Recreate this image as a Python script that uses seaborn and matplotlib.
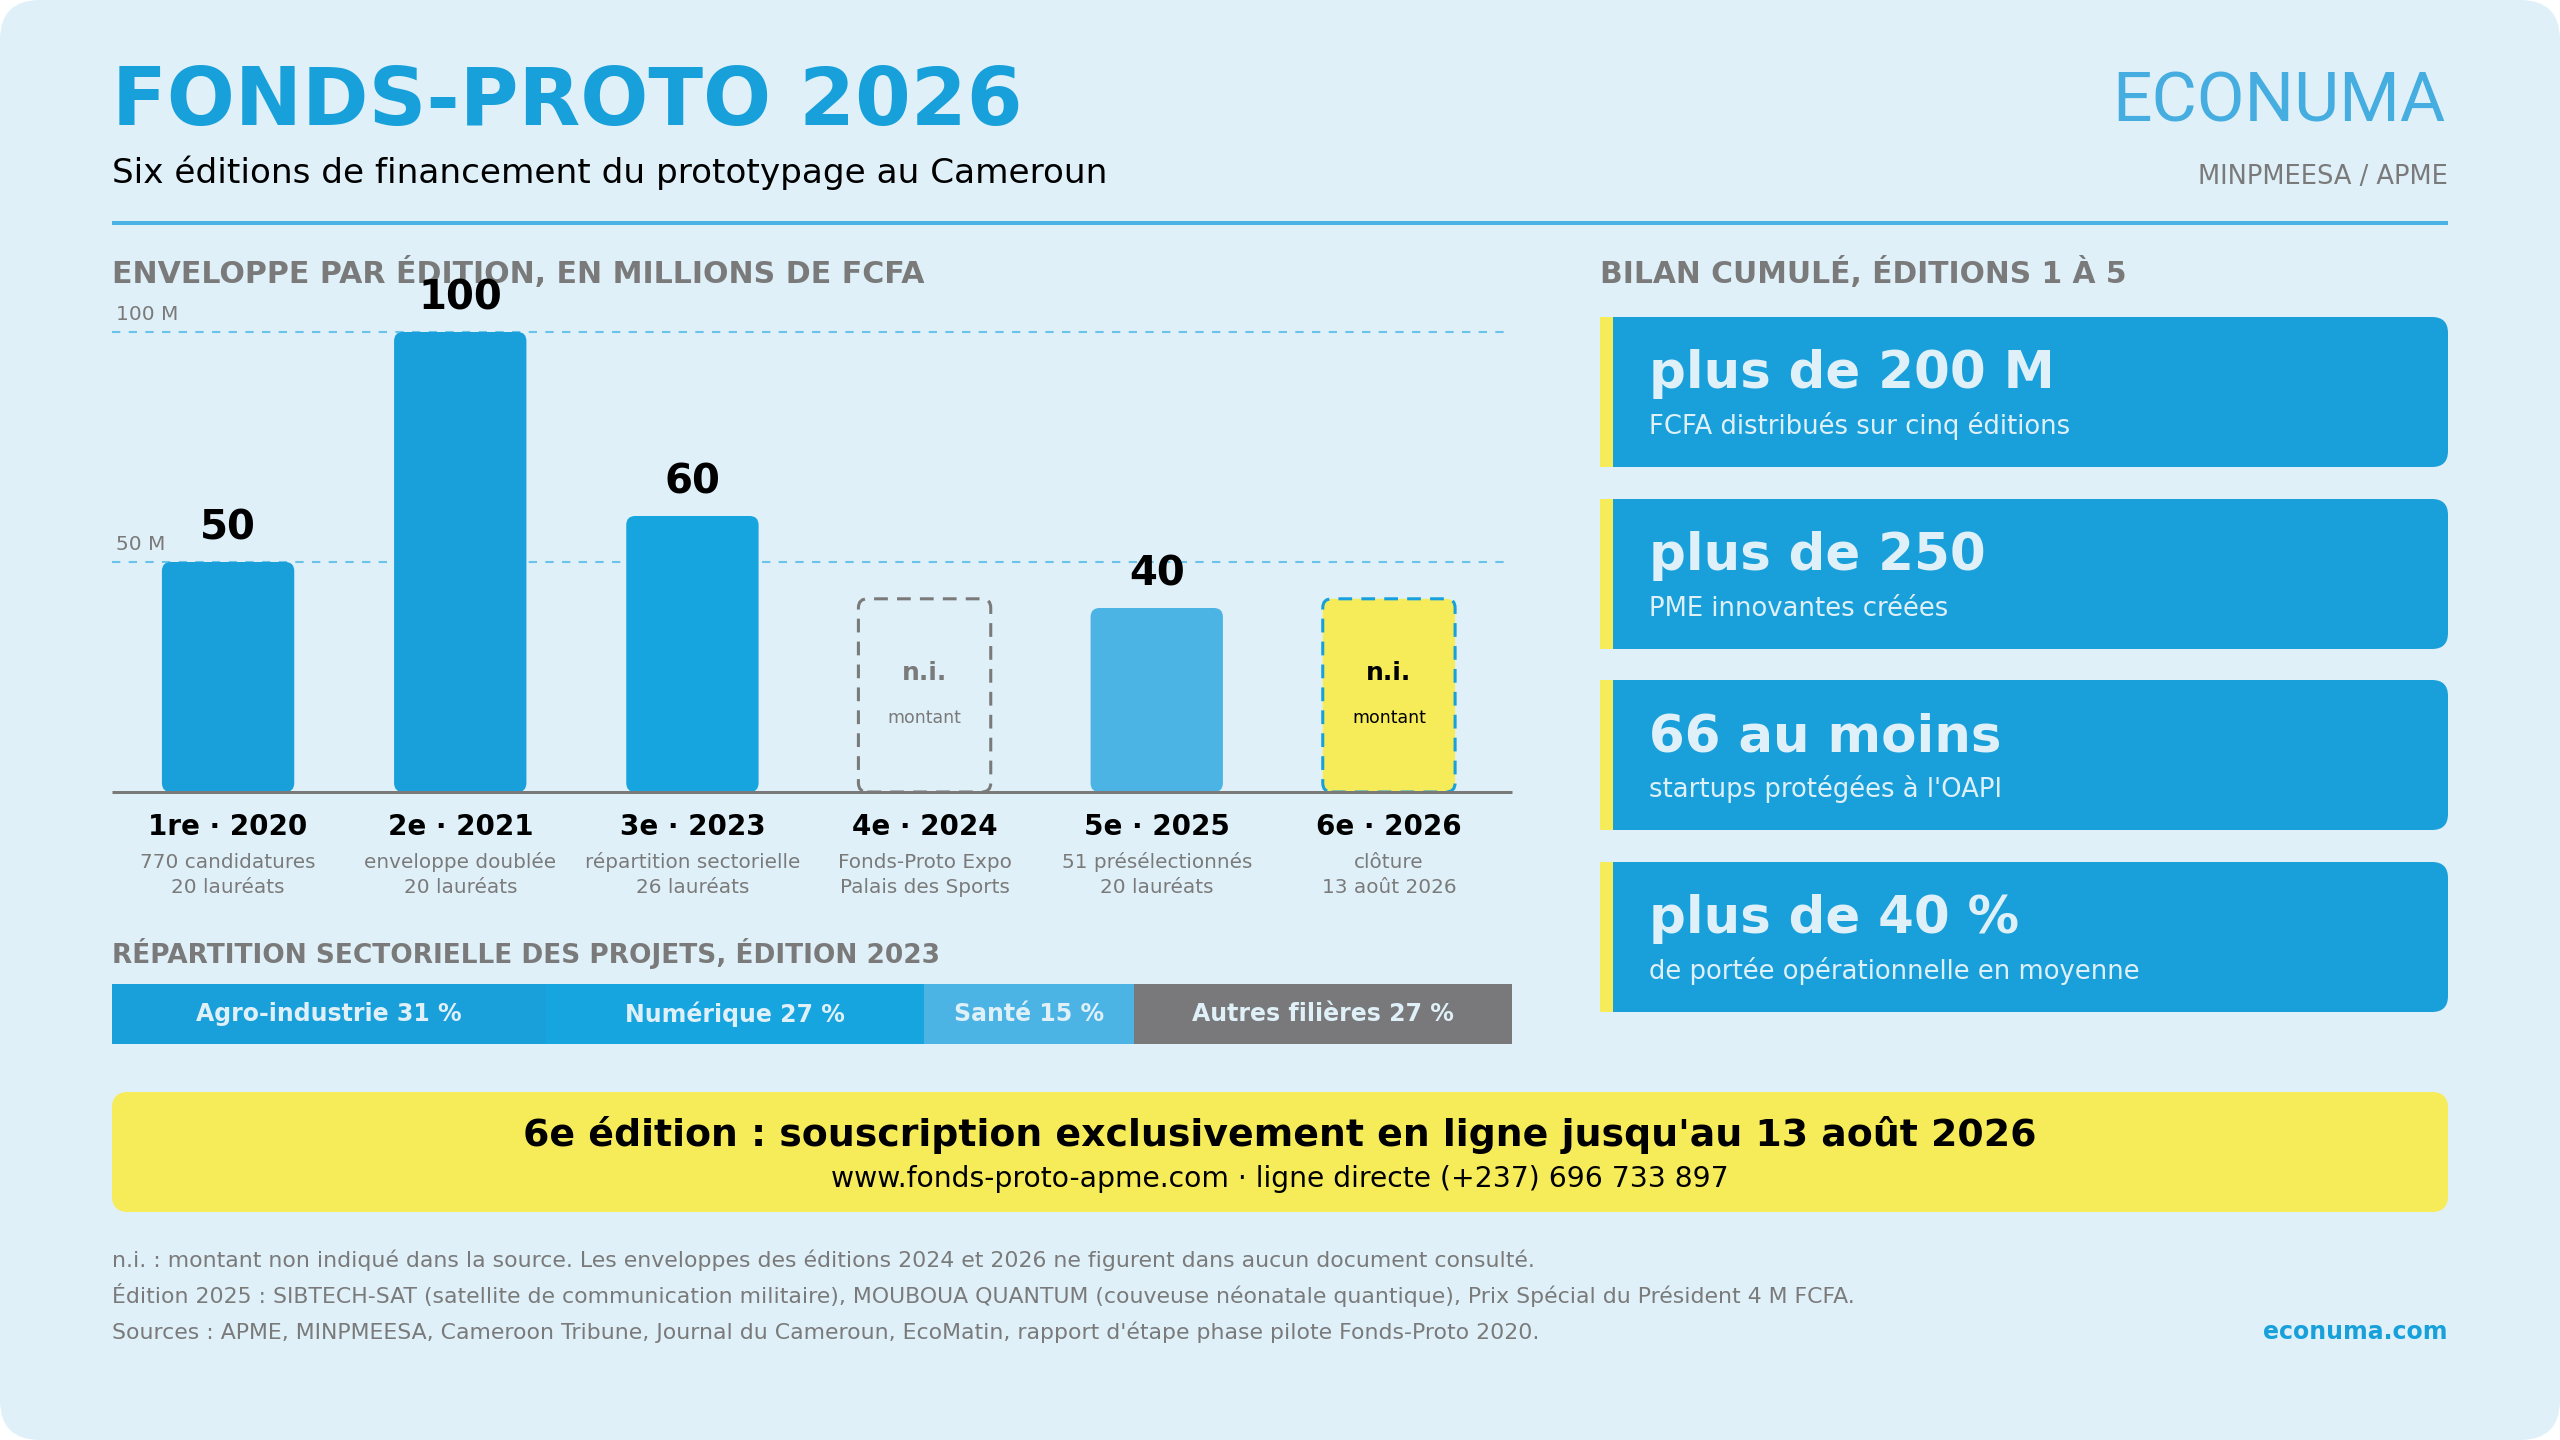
from __future__ import annotations

import matplotlib

matplotlib.use("Agg")
import matplotlib.pyplot as plt
import numpy as np
import pandas as pd
import seaborn as sns
from matplotlib.patches import FancyBboxPatch, Rectangle

W, H = 2560, 1440
BG = "#DFF0F8"
BLUE = "#19A0DB"
BLUE_MID = "#16A5DF"
BLUE_LIGHT = "#4BB4E4"
YELLOW = "#F6EC5A"
GRAY = "#7A7A7A"
GRID = "#6CC3E9"

# enveloppe par édition (millions FCFA), None = non indiqué
EDITIONS = ["1re · 2020", "2e · 2021", "3e · 2023", "4e · 2024", "5e · 2025", "6e · 2026"]
ENVELOPES = [50, 100, 60, None, 40, None]
EDITION_NOTES_1 = ["770 candidatures", "enveloppe doublée", "répartition sectorielle",
                   "Fonds-Proto Expo", "51 présélectionnés", "clôture"]
EDITION_NOTES_2 = ["20 lauréats", "20 lauréats", "26 lauréats",
                   "Palais des Sports", "20 lauréats", "13 août 2026"]
BAR_COLORS = [BLUE, BLUE, BLUE_MID, BG, BLUE_LIGHT, YELLOW]
NI_HEIGHT = 42  # hauteur du cadre "n.i."
GRID_VALUES = [50, 100]

SECTORS = ["Agro-industrie", "Numérique", "Santé", "Autres filières"]
SECTOR_SHARES = [31, 27, 15, 27]
SECTOR_COLORS = ["#199FDA", BLUE_MID, BLUE_LIGHT, "#79797B"]

KPI_VALUES = ["plus de 200 M", "plus de 250", "66 au moins", "plus de 40 %"]
KPI_CAPTIONS = ["FCFA distribués sur cinq éditions", "PME innovantes créées",
                "startups protégées à l'OAPI", "de portée opérationnelle en moyenne"]

BANNER_TITLE = "6e édition : souscription exclusivement en ligne jusqu'au 13 août 2026"
BANNER_SUB = "www.fonds-proto-apme.com · ligne directe (+237) 696 733 897"

FOOTNOTES = [
    "n.i. : montant non indiqué dans la source. Les enveloppes des éditions 2024 et 2026 ne figurent dans aucun document consulté.",
    "Édition 2025 : SIBTECH-SAT (satellite de communication militaire), MOUBOUA QUANTUM (couveuse néonatale quantique), Prix Spécial du Président 4 M FCFA.",
    "Sources : APME, MINPMEESA, Cameroon Tribune, Journal du Cameroun, EcoMatin, rapport d'étape phase pilote Fonds-Proto 2020.",
]

CHART_LEFT, CHART_WIDTH = 112, 1393
BASELINE_RIGHT = 1512


def pt(px: float) -> float:
    return px * 72 / 100


def draw_page(fig):
    page = fig.add_axes([0, 0, 1, 1], zorder=0)
    page.set_xlim(0, W)
    page.set_ylim(H, 0)
    page.axis("off")
    page.add_patch(FancyBboxPatch((0, 0), W, H, boxstyle="round,pad=0,rounding_size=40",
                                  fc=BG, ec="none"))

    page.text(112, 125, "FONDS-PROTO 2026", fontsize=57.8, fontweight="bold", color="#18A0DB")
    page.text(112, 183, "Six éditions de financement du prototypage au Cameroun",
              fontsize=24.7, color="black")
    page.text(2446, 122, "ECONUMA", fontsize=50, fontweight="normal", family="Roboto",
              color="#45ADE0", ha="right")
    page.text(2448, 184, "MINPMEESA / APME", fontsize=18.5, color=GRAY, ha="right")
    page.plot([112, 2448], [223, 223], color="#4AB3E3", lw=pt(4), solid_capstyle="butt")

    head = dict(fontweight="bold", color=GRAY)
    page.text(112, 283, "ENVELOPPE PAR ÉDITION, EN MILLIONS DE FCFA", fontsize=21.6, **head)
    page.text(1600, 283, "BILAN CUMULÉ, ÉDITIONS 1 À 5", fontsize=21.4, **head)
    page.text(112, 963, "RÉPARTITION SECTORIELLE DES PROJETS, ÉDITION 2023", fontsize=19, **head)

    for k, (value, caption) in enumerate(zip(KPI_VALUES, KPI_CAPTIONS)):
        top = round(317 + k * 181.7)
        page.add_patch(FancyBboxPatch((1600, top), 848, 150,
                                      boxstyle="round,pad=0,rounding_size=16", fc=BLUE, ec="none"))
        page.add_patch(Rectangle((1600, top), 40, 150, fc=BLUE, ec="none"))
        page.add_patch(Rectangle((1600, top), 13, 150, fc=YELLOW, ec="none"))
        page.text(1649, top + 71, value, fontsize=37, fontweight="bold", color=BG)
        page.text(1649, top + 117, caption, fontsize=18.6, color=BG)

    page.add_patch(FancyBboxPatch((112, 1092), 2336, 120,
                                  boxstyle="round,pad=0,rounding_size=16", fc=YELLOW, ec="none"))
    page.text(1280, 1146, BANNER_TITLE, fontsize=27.3, fontweight="bold", ha="center")
    page.text(1280, 1187, BANNER_SUB, fontsize=20.3, ha="center")

    for k, line in enumerate(FOOTNOTES):
        page.text(112, 1267 + k * 36, line, fontsize=15.8, color=GRAY)
    page.text(2448, 1339, "econuma.com", fontsize=17, fontweight="bold", color="#18A0DB",
              ha="right")
    return page


def draw_envelopes(fig):
    ax = fig.add_axes([CHART_LEFT / W, 1 - 792 / H, CHART_WIDTH / W, 492 / H], zorder=2)
    heights = [v if v is not None else NI_HEIGHT for v in ENVELOPES]
    df = pd.DataFrame({"edition": EDITIONS, "height": heights})
    sns.barplot(data=df, x="edition", y="height", hue="edition", palette=BAR_COLORS,
                width=0.57, saturation=1, legend=False, ax=ax)
    ax.set_xlim(-0.5, len(EDITIONS) - 0.5)
    ax.set_ylim(0, 492 / 4.6)
    ax.axis("off")

    # rounded bars, same geometry as seaborn's rectangles
    x_px = CHART_WIDTH / len(EDITIONS)
    y_px = 492 / ax.get_ylim()[1]
    aspect = x_px / y_px
    radius = 9 / x_px
    bars = sorted(ax.patches, key=lambda p: p.get_x())
    for i, bar in enumerate(bars):
        x0, w, h = bar.get_x(), bar.get_width(), bar.get_height()
        color = bar.get_facecolor()
        bar.remove()
        style = dict(fc=color, ec="none", lw=0)
        if ENVELOPES[i] is None and i == 3:
            style = dict(fc="none", ec=GRAY, lw=2.2, ls=(0, (4.5, 3)))
        elif ENVELOPES[i] is None:
            style = dict(fc=YELLOW, ec="#18A0DB", lw=2.2, ls=(0, (4.5, 3)))
        ax.add_patch(FancyBboxPatch((x0, 0), w, h, boxstyle=f"round,pad=0,rounding_size={radius}",
                                    mutation_aspect=aspect, zorder=2, **style))

    for g in GRID_VALUES:
        ax.axhline(g, color=GRID, lw=1.5, ls=(0, (4, 4)), zorder=1)
        ax.annotate(f"{g} M", (0, g), xycoords=("axes fraction", "data"),
                    xytext=(pt(4), pt(12)), textcoords="offset points",
                    fontsize=14.5, color=GRAY, va="baseline", annotation_clip=False)
    right = (BASELINE_RIGHT - CHART_LEFT) / CHART_WIDTH
    ax.plot([0, right], [0, 0], transform=ax.get_yaxis_transform(), color=GRAY, lw=pt(3),
            zorder=3, clip_on=False, solid_capstyle="butt")

    for i, v in enumerate(ENVELOPES):
        if v is None:
            tc = GRAY if i == 3 else "black"
            ax.annotate("n.i.", (i, 0), xytext=(0, pt(112)), textcoords="offset points",
                        ha="center", va="baseline", fontsize=18, fontweight="bold", color=tc,
                        annotation_clip=False, zorder=4)
            ax.annotate("montant", (i, 0), xytext=(0, pt(69)), textcoords="offset points",
                        ha="center", va="baseline", fontsize=12.5, color=tc,
                        annotation_clip=False, zorder=4)
        else:
            ax.annotate(f"{v}", (i, v), xytext=(0, pt(22)), textcoords="offset points",
                        ha="center", va="baseline", fontsize=29, fontweight="bold",
                        annotation_clip=False, zorder=4)
        ax.annotate(EDITIONS[i], (i, 0), xytext=(0, -pt(43)), textcoords="offset points",
                    ha="center", va="baseline", fontsize=20, fontweight="bold",
                    annotation_clip=False)
        ax.annotate(EDITION_NOTES_1[i], (i, 0), xytext=(0, -pt(76)), textcoords="offset points",
                    ha="center", va="baseline", fontsize=14.4, color=GRAY, annotation_clip=False)
        ax.annotate(EDITION_NOTES_2[i], (i, 0), xytext=(0, -pt(101)), textcoords="offset points",
                    ha="center", va="baseline", fontsize=14.4, color=GRAY, annotation_clip=False)
    return ax


def draw_sectors(fig):
    sx = fig.add_axes([112 / W, 1 - 1044 / H, 1400 / W, 60 / H], zorder=2)
    lefts = np.concatenate([[0], np.cumsum(SECTOR_SHARES)[:-1]])
    sx.barh([0] * len(SECTORS), SECTOR_SHARES, left=lefts, height=1, color=SECTOR_COLORS)
    sx.set_xlim(0, sum(SECTOR_SHARES))
    sx.set_ylim(-0.5, 0.5)
    sx.axis("off")
    for name, share, left in zip(SECTORS, SECTOR_SHARES, lefts):
        sx.text(left + share / 2, 0, f"{name} {share} %", ha="center", va="center",
                fontsize=17, fontweight="bold", color=BG)
    return sx


def main() -> None:
    plt.rcParams["font.family"] = ["DejaVu Sans"]
    fig = plt.figure(figsize=(W / 100, H / 100), dpi=100, facecolor="white")
    draw_page(fig)
    draw_envelopes(fig)
    draw_sectors(fig)
    fig.savefig("out.png", dpi=100, facecolor="white")
    plt.close(fig)


if __name__ == "__main__":
    main()
